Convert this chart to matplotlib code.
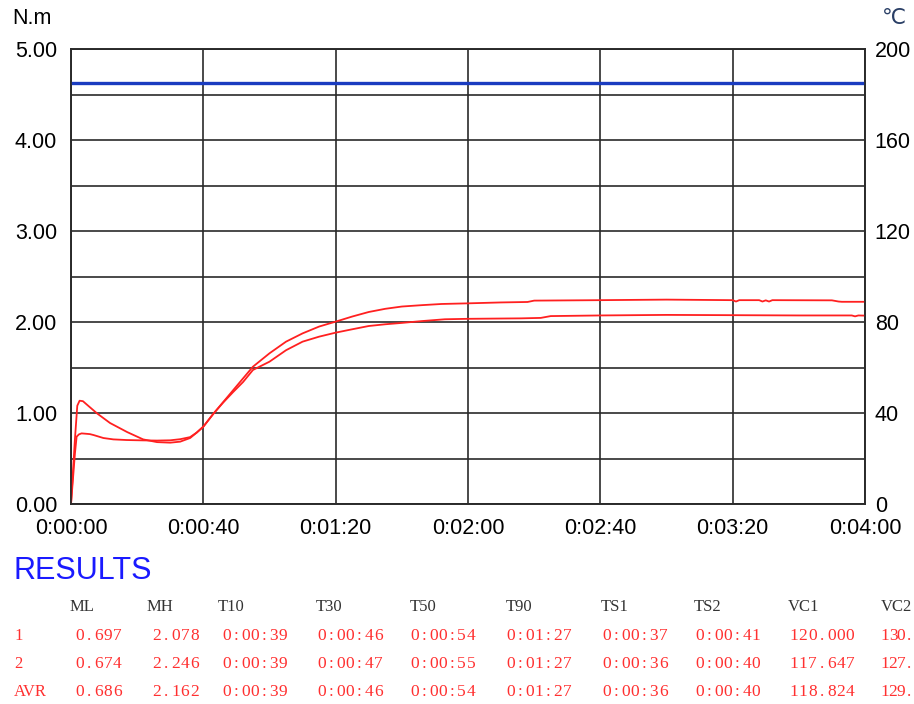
import numpy as np
import matplotlib
matplotlib.use("Agg")
from matplotlib import pyplot as plt
from matplotlib.ticker import MultipleLocator, FuncFormatter

# torque curves, time in seconds, torque in N.m
t_s1 = [0, 0.6, 1.2, 1.7, 2.4, 3.2, 4.5, 5.7, 6.8, 7.8, 9.8, 12.8, 16.8, 21.9, 26, 30,
        33, 36, 38, 40, 43, 46, 49, 52, 55, 60, 65, 70, 75, 80, 85, 90, 95, 100,
        106, 113, 120, 136, 142, 145, 160, 180, 200, 220, 236, 237, 238, 240]
torque_s1 = [0, 0.28, 0.56, 0.74, 0.765, 0.776, 0.772, 0.768, 0.758, 0.747, 0.725, 0.71,
             0.703, 0.699, 0.697, 0.70, 0.712, 0.735, 0.785, 0.85, 0.99, 1.115, 1.23, 1.34,
             1.473, 1.564, 1.69, 1.784, 1.839, 1.883, 1.92, 1.956, 1.975, 1.99, 2.01, 2.03,
             2.035, 2.04, 2.045, 2.065, 2.072, 2.078, 2.075, 2.072, 2.072, 2.062, 2.072, 2.07]

t_s2 = [0, 0.6, 1.2, 1.9, 2.6, 3.6, 5.5, 7.9, 11.8, 17, 21.8, 26, 30, 33, 36, 38, 40,
        43, 46, 49, 52, 55, 60, 65, 70, 75, 80, 85, 90, 95, 100, 106, 112, 120, 130,
        138, 140, 160, 180, 200, 201, 202, 208, 209, 210, 211, 212, 230, 232, 233, 234, 240]
torque_s2 = [0, 0.36, 0.72, 1.08, 1.135, 1.13, 1.07, 0.995, 0.89, 0.79, 0.71, 0.68, 0.674,
             0.685, 0.725, 0.785, 0.85, 0.99, 1.12, 1.25, 1.38, 1.509, 1.656, 1.784, 1.875,
             1.95, 2.004, 2.06, 2.11, 2.145, 2.17, 2.185, 2.198, 2.205, 2.215, 2.22, 2.235,
             2.24, 2.246, 2.24, 2.225, 2.24, 2.24, 2.225, 2.238, 2.225, 2.24, 2.238, 2.225,
             2.222, 2.222, 2.222]

t_temp = [0, 240]
temp = [185, 185]

# results table
columns = ["ML", "MH", "T10", "T30", "T50", "T90", "TS1", "TS2", "VC1", "VC2"]
row_names = ["1", "2", "AVR"]
results = [
    ["0.697", "2.078", "0:00:39", "0:00:46", "0:00:54", "0:01:27", "0:00:37", "0:00:41", "120.000", "130."],
    ["0.674", "2.246", "0:00:39", "0:00:47", "0:00:55", "0:01:27", "0:00:36", "0:00:40", "117.647", "127."],
    ["0.686", "2.162", "0:00:39", "0:00:46", "0:00:54", "0:01:27", "0:00:36", "0:00:40", "118.824", "129."],
]

W, H = 914, 704
fig = plt.figure(figsize=(W / 100, H / 100), dpi=100)
ax = fig.add_axes([71 / W, 1 - 504 / H, 794 / W, 455 / H])
ax2 = ax.twinx()

grid_col = "#2a2a2a"
sans = ["Liberation Sans", "DejaVu Sans"]
tick_size = 15.5

ax.plot(t_s1, torque_s1, color="#ff2020", lw=1.3, zorder=3)
ax.plot(t_s2, torque_s2, color="#ff2020", lw=1.3, zorder=3)
ax2.plot(t_temp, temp, color="#1a3cc0", lw=2.4)

ax.set_xlim(0, 240)
ax.set_ylim(0, 5)
ax2.set_ylim(0, 200)

ax.xaxis.set_major_locator(MultipleLocator(40))
ax.yaxis.set_major_locator(MultipleLocator(1))
ax.yaxis.set_minor_locator(MultipleLocator(0.5))
ax2.yaxis.set_major_locator(MultipleLocator(40))

def hms(x, pos):
    s = int(round(x))
    return "%d:%02d:%02d" % (s // 3600, (s // 60) % 60, s % 60)

ax.xaxis.set_major_formatter(FuncFormatter(hms))
ax.yaxis.set_major_formatter(FuncFormatter(lambda v, p: "%.2f" % v))

ax.grid(True, which="both", color=grid_col, lw=1.2)
ax.set_axisbelow(True)
ax.tick_params(axis="both", which="both", length=0, labelsize=tick_size)
ax.tick_params(axis="y", pad=10)
ax.tick_params(axis="x", pad=10)
ax2.tick_params(axis="y", length=0, labelsize=tick_size, pad=7)
for a in (ax, ax2):
    for lab in a.get_xticklabels() + a.get_yticklabels():
        lab.set_family(sans)
    for sp in a.spines.values():
        sp.set_color(grid_col)
        sp.set_linewidth(1.2)

fig.text(12 / W, 1 - 19 / H, "N.m", fontsize=tick_size, family=sans, va="center", ha="left")
fig.text(894 / W, 1 - 19 / H, "℃", fontsize=tick_size, family=sans, color="#2a3f66",
         va="center", ha="center")

fig.text(13 / W, 1 - 571 / H, "RESULTS", fontsize=22, family=sans, color="#1a1aff",
         va="center", ha="left")

serif = "Liberation Serif"


def cell_text(x, y, s, color, cell=9.4):
    # fixed-pitch layout for the numbers: one glyph per cell
    for i, ch in enumerate(s):
        fig.text((x + (i + 0.5) * cell) / W, 1 - y / H, ch, fontsize=12.5,
                 family=serif, color=color, va="center", ha="center")


# table layout
head_x = [70, 147, 218, 316, 410, 506, 601, 694, 788, 881]
val_x = [75, 152, 222, 317, 410, 506, 602, 695, 789, 881]
row_y = [636, 664, 692]
red = "#ff3030"

for name, x in zip(columns, head_x):
    fig.text(x / W, 1 - 607 / H, name, fontsize=12, family=serif, color="#333333",
             va="center", ha="left")
for name, y, vals in zip(row_names, row_y, results):
    fig.text(14 / W, 1 - y / H, name, fontsize=12, family=serif, color=red,
             va="center", ha="left")
    for i, (v, x) in enumerate(zip(vals, val_x)):
        # last column sits against the right edge, squeeze it a little
        cell_text(x, y, v, red, cell=8.0 if i == len(vals) - 1 else 9.4)

fig.savefig("out.png", dpi=100)
